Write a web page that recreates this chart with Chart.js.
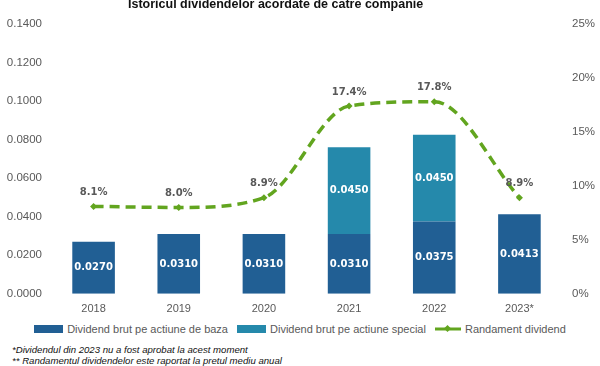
<!DOCTYPE html>
<html>
<head>
<meta charset="utf-8">
<script src="https://cdn.jsdelivr.net/npm/chart.js@4.4.1/dist/chart.umd.min.js"></script>
<style>
  body { margin: 0; background: #fff; font-family: "Liberation Sans", Arial, sans-serif; }
  #wrap { position: relative; width: 600px; height: 366px; overflow: hidden; }
  #title { position: absolute; left: 128px; top: -3px; font-weight: bold; font-size: 12.5px; color: #111; white-space: nowrap; }
  #chart-box { position: absolute; left: 0; top: 0; width: 600px; height: 317px; }
  #legend { position: absolute; left: 0; top: 323px; width: 600px; display: flex; justify-content: center; gap: 9px; font-size: 11px; color: #595959; }
  #legend .item { display: flex; align-items: center; gap: 4px; }
  #legend .box { width: 29px; height: 8px; display: inline-block; }
  .note { position: absolute; left: 12px; font-size: 9.6px; font-style: italic; color: #111; white-space: nowrap; }
</style>
</head>
<body>
<div id="wrap">
  <div id="chart-box"><canvas id="chart"></canvas></div>
  <div id="title">Istoricul dividendelor acordate de către companie</div>
  <div id="legend"></div>
  <div class="note" style="top:344px">*Dividendul din 2023 nu a fost aprobat la acest moment</div>
  <div class="note" style="top:355px">** Randamentul dividendelor este raportat la pretul mediu anual</div>
</div>
<script>
const years = ["2018", "2019", "2020", "2021", "2022", "2023*"];
const baseDividend = [0.0270, 0.0310, 0.0310, 0.0310, 0.0375, 0.0413];
const specialDividend = [null, null, null, 0.0450, 0.0450, null];
const yieldPct = [8.1, 8.0, 8.9, 17.4, 17.8, 8.9];

const BASE_COLOR = "#215f94";
const SPECIAL_COLOR = "#2589ab";
const LINE_COLOR = "#62a51f";
const TICK_FONT = { size: 11.5, family: "'Liberation Sans', Arial, sans-serif" };

// value labels: white inside bars, grey above line points
const valueLabels = {
  id: "valueLabels",
  afterDatasetsDraw(chart) {
    const ctx = chart.ctx;
    ctx.save();
    ctx.textAlign = "center";
    ctx.textBaseline = "middle";
    ctx.font = "bold 10px 'DejaVu Sans', sans-serif";
    chart.data.datasets.forEach((ds, i) => {
      const meta = chart.getDatasetMeta(i);
      meta.data.forEach((el, j) => {
        const v = ds.data[j];
        if (v == null) return;
        if (ds.type === "line") {
          ctx.fillStyle = "#595959";
          ctx.fillText(v.toFixed(1) + "%", el.x, el.y - 14);
        } else {
          ctx.fillStyle = "#ffffff";
          ctx.fillText(v.toFixed(4), el.x, (el.y + el.base) / 2);
        }
      });
    });
    ctx.restore();
  },
};

new Chart(document.getElementById("chart"), {
  data: {
    labels: years,
    datasets: [
      {
        type: "line",
        label: "Randament dividend",
        data: yieldPct,
        yAxisID: "y1",
        borderColor: LINE_COLOR,
        backgroundColor: LINE_COLOR,
        borderWidth: 3.5,
        borderDash: [10, 6],
        cubicInterpolationMode: "monotone",
        pointStyle: "rectRot",
        pointRadius: 3.5,
        pointBackgroundColor: LINE_COLOR,
        pointBorderWidth: 0,
        order: 0,
      },
      {
        type: "bar",
        label: "Dividend brut pe actiune de baza",
        data: baseDividend,
        backgroundColor: BASE_COLOR,
        yAxisID: "y",
        stack: "div",
        order: 1,
      },
      {
        type: "bar",
        label: "Dividend brut pe actiune special",
        data: specialDividend,
        backgroundColor: SPECIAL_COLOR,
        yAxisID: "y",
        stack: "div",
        order: 1,
      },
    ],
  },
  options: {
    responsive: true,
    maintainAspectRatio: false,
    animation: false,
    datasets: { bar: { categoryPercentage: 1, barPercentage: 0.5 } },
    layout: { padding: { top: 24, left: 0, right: 0, bottom: 0 } },
    plugins: { legend: { display: false }, tooltip: { enabled: false } },
    scales: {
      x: {
        stacked: true,
        grid: { display: false },
        border: { display: false },
        ticks: { color: "#595959", font: { size: 11, family: TICK_FONT.family }, padding: 1 },
      },
      y: {
        stacked: true,
        min: 0,
        max: 0.14,
        afterFit: (axis) => { axis.width = 51; },
        grid: { display: false, drawTicks: false },
        border: { display: false },
        ticks: {
          stepSize: 0.02,
          color: "#595959",
          padding: 9,
          font: TICK_FONT,
          callback: (v) => v.toFixed(4),
        },
      },
      y1: {
        position: "right",
        min: 0,
        max: 25,
        afterFit: (axis) => { axis.width = 38; },
        grid: { display: false, drawTicks: false },
        border: { display: false },
        ticks: {
          stepSize: 5,
          color: "#595959",
          padding: 10,
          font: TICK_FONT,
          callback: (v) => v + "%",
        },
      },
    },
  },
  plugins: [valueLabels],
});

// html legend
const legend = document.getElementById("legend");
legend.innerHTML = `
  <div class="item"><span class="box" style="background:${BASE_COLOR}"></span>Dividend brut pe actiune de baza</div>
  <div class="item"><span class="box" style="background:${SPECIAL_COLOR}"></span>Dividend brut pe actiune special</div>
  <div class="item"><svg width="26" height="10"><line x1="0" y1="5" x2="26" y2="5" stroke="${LINE_COLOR}" stroke-width="3"/><rect x="10" y="2" width="5" height="5" fill="${LINE_COLOR}" transform="rotate(45 12.5 4.5)"/></svg>Randament dividend</div>
`;
</script>
</body>
</html>
